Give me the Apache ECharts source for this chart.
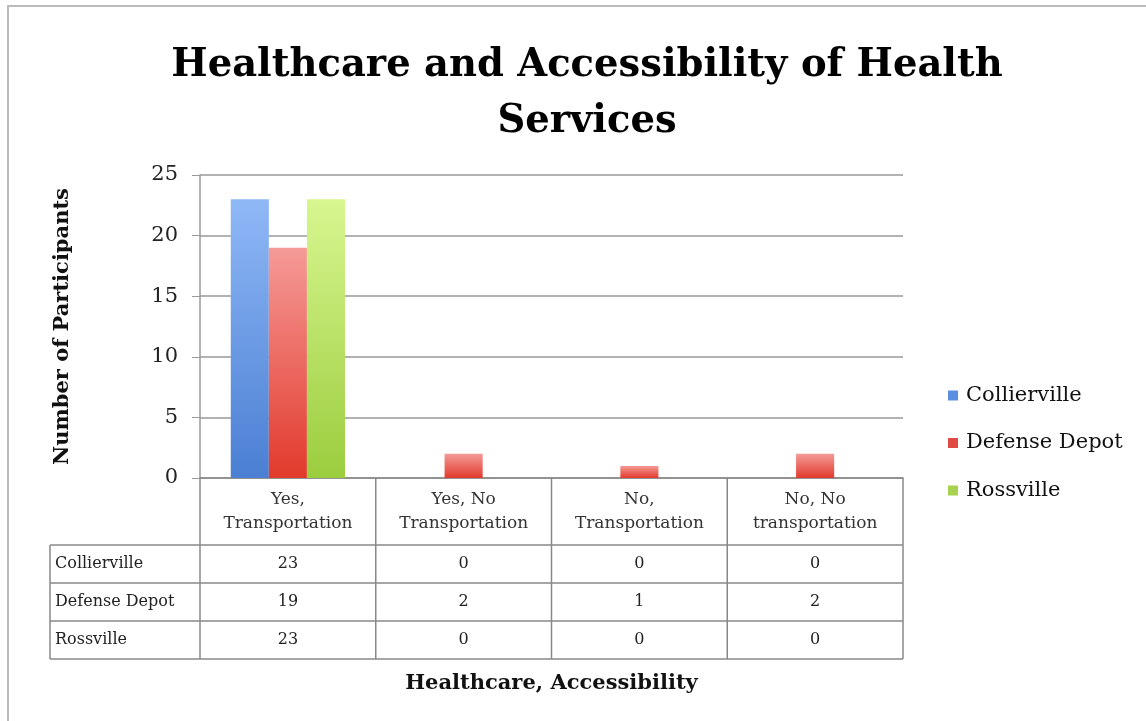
<!DOCTYPE html>
<html><head><meta charset="utf-8">
<script src="https://cdn.jsdelivr.net/npm/echarts@6/dist/echarts.min.js"></script>
<style>html,body{margin:0;padding:0;background:#fff}#c{width:1146px;height:721px}</style>
</head><body><div id="c"></div>
<script>
const categories = ['Yes,\nTransportation', 'Yes, No\nTransportation', 'No,\nTransportation', 'No, No\ntransportation'];
const seriesNames = ['Collierville', 'Defense Depot', 'Rossville'];
const collierville = [23, 0, 0, 0];
const defenseDepot = [19, 2, 1, 2];
const rossville = [23, 0, 0, 0];
const yTicks = [0, 5, 10, 15, 20, 25];

const values = [collierville, defenseDepot, rossville];
const FONT = '"DejaVu Serif", "Liberation Serif", serif';
const grads = [
  ['#8fb8f6', '#4a7fd3'],
  ['#f59a97', '#e23a2c'],
  ['#d8f690', '#9bcd3e']
];
const solid = ['#5b8fe0', '#e04a45', '#a6d24f'];

const chart = echarts.init(document.getElementById('c'));
const option = {
  backgroundColor: '#fff',
  animation: false,
  title: {
    text: 'Healthcare and Accessibility of Health\nServices',
    left: 582, top: 33, textAlign: 'center',
    textStyle: { fontFamily: FONT, fontWeight: 'bold', fontSize: 38.5, lineHeight: 56, color: '#000' }
  },
  legend: {
    orient: 'vertical', left: 943, top: 380, itemGap: 26.5,
    itemWidth: 10, itemHeight: 10, icon: 'rect',
    textStyle: { fontFamily: FONT, fontSize: 21, color: '#111', padding: [0, 0, 0, 3] },
    data: seriesNames.map((n, i) => ({ name: n, itemStyle: { color: solid[i] } }))
  },
  grid: { left: 200, right: 243, top: 175, bottom: 243, containLabel: false },
  xAxis: {
    type: 'category', data: categories,
    axisLine: { lineStyle: { color: '#888', width: 1.5 } },
    axisTick: { show: false },
    axisLabel: { fontFamily: FONT, fontSize: 17, lineHeight: 24, color: '#333', margin: 10 },
    name: 'Healthcare, Accessibility', nameLocation: 'middle', nameGap: 195,
    nameTextStyle: { fontFamily: FONT, fontWeight: 'bold', fontSize: 21, color: '#111' }
  },
  yAxis: {
    type: 'value', min: 0, max: 25, interval: 5,
    axisLine: { show: true, lineStyle: { color: '#999', width: 1.5 } },
    axisTick: { show: true, inside: false, length: 8, lineStyle: { color: '#999' } },
    splitLine: { lineStyle: { color: '#999', width: 1.5 } },
    axisLabel: { fontFamily: FONT, fontSize: 21, color: '#222', margin: 22,
      formatter: v => yTicks.includes(v) ? String(v) : '' },
    name: 'Number of Participants', nameLocation: 'middle', nameGap: 127, nameRotate: 90,
    nameTextStyle: { fontFamily: FONT, fontWeight: 'bold', fontSize: 21, color: '#111' }
  },
  series: seriesNames.map((n, i) => ({
    name: n, type: 'bar', data: values[i], barGap: '0%', barCategoryGap: '35%',
    itemStyle: { color: new echarts.graphic.LinearGradient(0, 0, 0, 1, [
      { offset: 0, color: grads[i][0] }, { offset: 1, color: grads[i][1] }]) }
  }))
};
chart.setOption(option);

// Data table below the axis, positioned from the chart's own scales
const x0 = chart.convertToPixel({ xAxisIndex: 0 }, 0);
const x1 = chart.convertToPixel({ xAxisIndex: 0 }, 1);
const band = x1 - x0;
const left = x0 - band / 2;
const right = left + band * categories.length;
const yBase = chart.convertToPixel({ yAxisIndex: 0 }, 0);
const headerH = 67, rowH = 38, labelLeft = 50;
const tableBottom = yBase + headerH + rowH * seriesNames.length;
const lineStyle = { stroke: '#888', lineWidth: 1.5 };
const g = [];
g.push({ type: 'rect', shape: { x: 8, y: 6, width: 1300, height: 900 }, style: { fill: 'none', stroke: '#bbb', lineWidth: 2 }, silent: true, z: -1 });
for (let i = 0; i <= categories.length; i++) {
  const x = left + band * i;
  g.push({ type: 'line', shape: { x1: x, y1: yBase, x2: x, y2: tableBottom }, style: lineStyle });
}
g.push({ type: 'line', shape: { x1: labelLeft, y1: yBase + headerH, x2: labelLeft, y2: tableBottom }, style: lineStyle });
for (let r = 0; r <= seriesNames.length; r++) {
  const y = yBase + headerH + rowH * r;
  g.push({ type: 'line', shape: { x1: labelLeft, y1: y, x2: right, y2: y }, style: lineStyle });
}
seriesNames.forEach((n, r) => {
  const yc = yBase + headerH + rowH * r + rowH / 2;
  g.push({ type: 'text', x: labelLeft + 5, y: yc, style: { text: n, fontFamily: FONT, fontSize: 16, fill: '#222', verticalAlign: 'middle', textAlign: 'left' } });
  values[r].forEach((v, c) => {
    g.push({ type: 'text', x: chart.convertToPixel({ xAxisIndex: 0 }, c), y: yc, style: { text: String(v), fontFamily: FONT, fontSize: 16, fill: '#222', verticalAlign: 'middle', textAlign: 'center' } });
  });
});
chart.setOption({ graphic: g });
</script></body></html>
